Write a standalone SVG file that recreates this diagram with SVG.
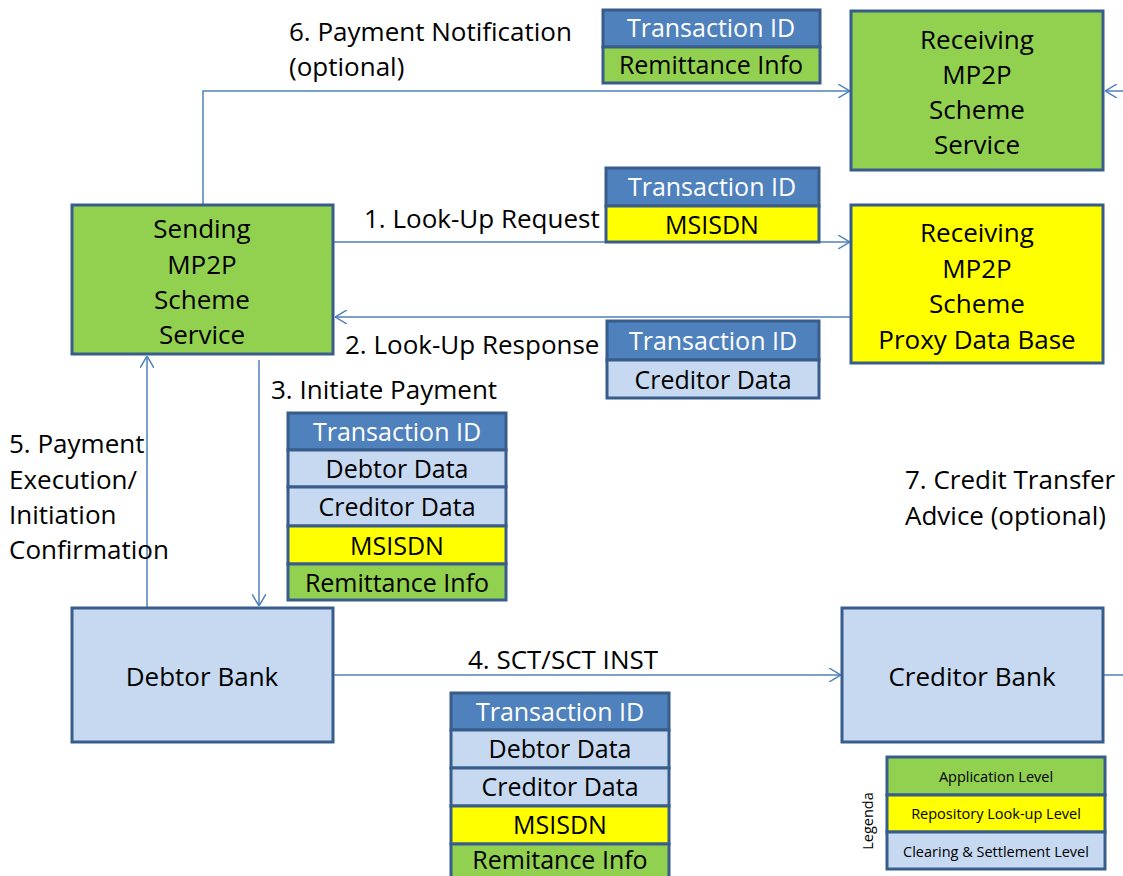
<svg xmlns="http://www.w3.org/2000/svg" width="1123" height="876" viewBox="0 0 1123 876">
<style>
text{font-family:"Open Sans",Lato,"Liberation Sans",sans-serif;fill:#000}
.box{stroke:#385D8A;stroke-width:3}
.g{fill:#92D050}.y{fill:#FFFF00}.b{fill:#C6D9F1}.h{fill:#4F81BD}
.cell{stroke:#385D8A;stroke-width:3}
.lbl{font-size:26px}
.bt{font-size:26px;text-anchor:middle}
.pt{font-size:25px;text-anchor:middle}
.wt{fill:#fff}
.lt{font-size:14.5px;text-anchor:middle}
.con{stroke:#4F81BD;stroke-width:1.5;fill:none}
</style>
<defs>
<marker id="arr" viewBox="0 0 12 14" refX="12" refY="7" markerWidth="12" markerHeight="14" markerUnits="userSpaceOnUse" orient="auto"><path d="M0,0 L12,7 L0,14" fill="none" stroke="#4F81BD" stroke-width="1.5"/></marker>
</defs>
<rect width="1123" height="876" fill="#fff"/>

<g id="connectors">
<polyline class="con" points="203,205 203,91 850,91" marker-end="url(#arr)"/>
<line class="con" x1="1123" y1="91" x2="1105" y2="91" marker-end="url(#arr)"/>
<line class="con" x1="334" y1="242" x2="850" y2="242" marker-end="url(#arr)"/>
<line class="con" x1="851" y1="317" x2="335" y2="317" marker-end="url(#arr)"/>
<line class="con" x1="259" y1="360" x2="259" y2="606" marker-end="url(#arr)"/>
<line class="con" x1="147" y1="607" x2="147" y2="356" marker-end="url(#arr)"/>
<line class="con" x1="334" y1="675" x2="841" y2="675" marker-end="url(#arr)"/>
<line class="con" x1="1104" y1="675" x2="1123" y2="675"/>
</g>

<g id="labels">
<text class="lbl" x="289" y="41">6. Payment Notification</text>
<text class="lbl" x="289" y="76">(optional)</text>
<text class="lbl" x="364" y="228">1. Look-Up Request</text>
<text class="lbl" x="345" y="354">2. Look-Up Response</text>
<text class="lbl" x="271" y="399">3. Initiate Payment</text>
<text class="lbl" x="9" y="453">5. Payment</text>
<text class="lbl" x="9" y="489">Execution/</text>
<text class="lbl" x="9" y="524">Initiation</text>
<text class="lbl" x="9" y="559">Confirmation</text>
<text class="lbl" x="905" y="489">7. Credit Transfer</text>
<text class="lbl" x="905" y="525">Advice (optional)</text>
<text class="lbl" x="563" y="669" text-anchor="middle">4. SCT/SCT INST</text>
</g>

<g id="receiving-service">
<rect class="box g" x="851" y="11" width="252" height="159"/>
<text class="bt" x="977" y="49">Receiving</text>
<text class="bt" x="977" y="84">MP2P</text>
<text class="bt" x="977" y="119">Scheme</text>
<text class="bt" x="977" y="154">Service</text>
</g>

<g id="receiving-proxy">
<rect class="box y" x="851" y="205" width="252" height="158"/>
<text class="bt" x="977" y="242">Receiving</text>
<text class="bt" x="977" y="278">MP2P</text>
<text class="bt" x="977" y="313">Scheme</text>
<text class="bt" x="977" y="349">Proxy Data Base</text>
</g>

<g id="sending-service">
<rect class="box g" x="72" y="205" width="261" height="149"/>
<text class="bt" x="202" y="238">Sending</text>
<text class="bt" x="202" y="274">MP2P</text>
<text class="bt" x="202" y="309">Scheme</text>
<text class="bt" x="202" y="344">Service</text>
</g>

<g id="debtor-bank">
<rect class="box b" x="72" y="608" width="261" height="134"/>
<text class="bt" x="202" y="686">Debtor Bank</text>
</g>

<g id="creditor-bank">
<rect class="box b" x="842" y="608" width="261" height="134"/>
<text class="bt" x="972" y="686">Creditor Bank</text>
</g>

<g id="packet-6">
<rect class="cell h" x="603" y="10" width="217" height="37"/>
<rect class="cell g" x="603" y="47" width="217" height="36"/>
<text class="pt wt" x="711" y="37">Transaction ID</text>
<text class="pt" x="711" y="74">Remittance Info</text>
</g>

<g id="packet-1">
<rect class="cell h" x="606" y="168" width="213" height="38"/>
<rect class="cell y" x="606" y="206" width="213" height="36"/>
<text class="pt wt" x="712" y="196">Transaction ID</text>
<text class="pt" x="712" y="234">MSISDN</text>
</g>

<g id="packet-2">
<rect class="cell h" x="607" y="321" width="212" height="39"/>
<rect class="cell b" x="607" y="360" width="212" height="38"/>
<text class="pt wt" x="713" y="350">Transaction ID</text>
<text class="pt" x="713" y="389">Creditor Data</text>
</g>

<g id="packet-3">
<rect class="cell h" x="288" y="413" width="218" height="37"/>
<rect class="cell b" x="288" y="450" width="218" height="37"/>
<rect class="cell b" x="288" y="487" width="218" height="39"/>
<rect class="cell y" x="288" y="526" width="218" height="38"/>
<rect class="cell g" x="288" y="564" width="218" height="36"/>
<text class="pt wt" x="397" y="441">Transaction ID</text>
<text class="pt" x="397" y="478">Debtor Data</text>
<text class="pt" x="397" y="516">Creditor Data</text>
<text class="pt" x="397" y="555">MSISDN</text>
<text class="pt" x="397" y="592">Remittance Info</text>
</g>

<g id="packet-4">
<rect class="cell h" x="451" y="693" width="218" height="37"/>
<rect class="cell b" x="451" y="730" width="218" height="38"/>
<rect class="cell b" x="451" y="768" width="218" height="38"/>
<rect class="cell y" x="451" y="806" width="218" height="38"/>
<rect class="cell g" x="451" y="844" width="218" height="40"/>
<text class="pt wt" x="560" y="721">Transaction ID</text>
<text class="pt" x="560" y="758">Debtor Data</text>
<text class="pt" x="560" y="796">Creditor Data</text>
<text class="pt" x="560" y="834">MSISDN</text>
<text class="pt" x="560" y="869">Remitance Info</text>
</g>

<g id="legend">
<rect class="cell g" x="887" y="757" width="218" height="38"/>
<rect class="cell y" x="887" y="795" width="218" height="37"/>
<rect class="cell b" x="887" y="832" width="218" height="37"/>
<text class="lt" x="996" y="782">Application Level</text>
<text class="lt" x="996" y="819">Repository Look-up Level</text>
<text class="lt" x="996" y="857">Clearing &amp; Settlement Level</text>
<text class="lt" transform="translate(873,821) rotate(-90)">Legenda</text>
</g>
</svg>
